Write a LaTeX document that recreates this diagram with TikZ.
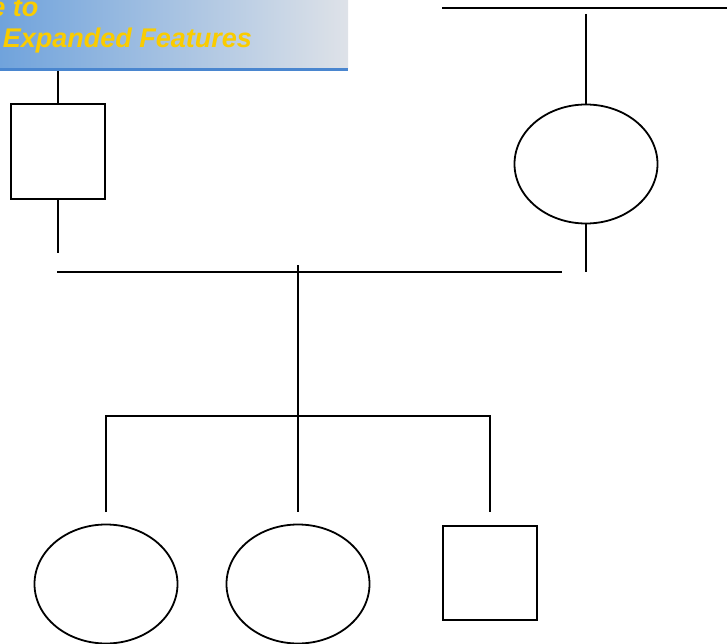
\documentclass[tikz,border=0pt]{standalone}
\usepackage{fontspec}
\setmainfont{Liberation Sans}
\usetikzlibrary{shapes.geometric}
\definecolor{bannerL}{RGB}{112,163,220}
\definecolor{bannerR}{RGB}{222,226,232}
\definecolor{bannerLine}{RGB}{74,134,207}
\definecolor{titleY}{RGB}{250,204,0}
\begin{document}
\begin{tikzpicture}[x=1pt,y=-1pt,line width=1.8pt,
  sq/.style={draw,rectangle,minimum width=94.5pt,minimum height=94.5pt,inner sep=0pt},
  ov/.style={draw,ellipse,minimum width=143pt,minimum height=119pt,inner sep=0pt},
  ttl/.style={anchor=base west,text=titleY,inner sep=0pt,font=\bfseries\itshape\fontsize{27}{27}\selectfont}]
\useasboundingbox (0,0) rectangle (727,644);
\clip (0,0) rectangle (727,644);
% banner
\shade[left color=bannerL,right color=bannerR] (0,0) rectangle (348,69);
\fill[bannerLine] (0,68) rectangle (348,71);
\node[ttl] (t1) at (-10.5,17) {e to};
\node[ttl] (t2) at (2,48) {Expanded Features};
% nodes
\node[sq] (f1) at (58,151.5) {};
\node[ov] (m1) at (586,164) {};
\node[ov] (c1) at (106,584) {};
\node[ov] (c2) at (298,584) {};
\node[sq] (c3) at (490,573) {};
% free ends
\coordinate (bb) at (58,71);
\coordinate (f1e) at (58,253);
\coordinate (tl) at (442,8);
\coordinate (tr) at (727,8);
\coordinate (m1t) at (586,14);
\coordinate (m1e) at (586,272);
\coordinate (ml) at (57,272);
\coordinate (mr) at (562,272);
\coordinate (dt) at (298,265);
\coordinate (db) at (298,512);
\coordinate (sl) at (106,416);
\coordinate (sr) at (490,416);
\coordinate (slb) at (106,512);
\coordinate (srb) at (490,512);
% connectors
\draw (bb) -- (f1.north);
\draw (f1.south) -- (f1e);
\draw (tl) -- (tr);
\draw (m1t) -- (m1.north);
\draw (m1.south) -- (m1e);
\draw (ml) -- (mr);
\draw (dt) -- (db);
\draw (slb) -- (sl) -- (sr) -- (srb);
\end{tikzpicture}
\end{document}
